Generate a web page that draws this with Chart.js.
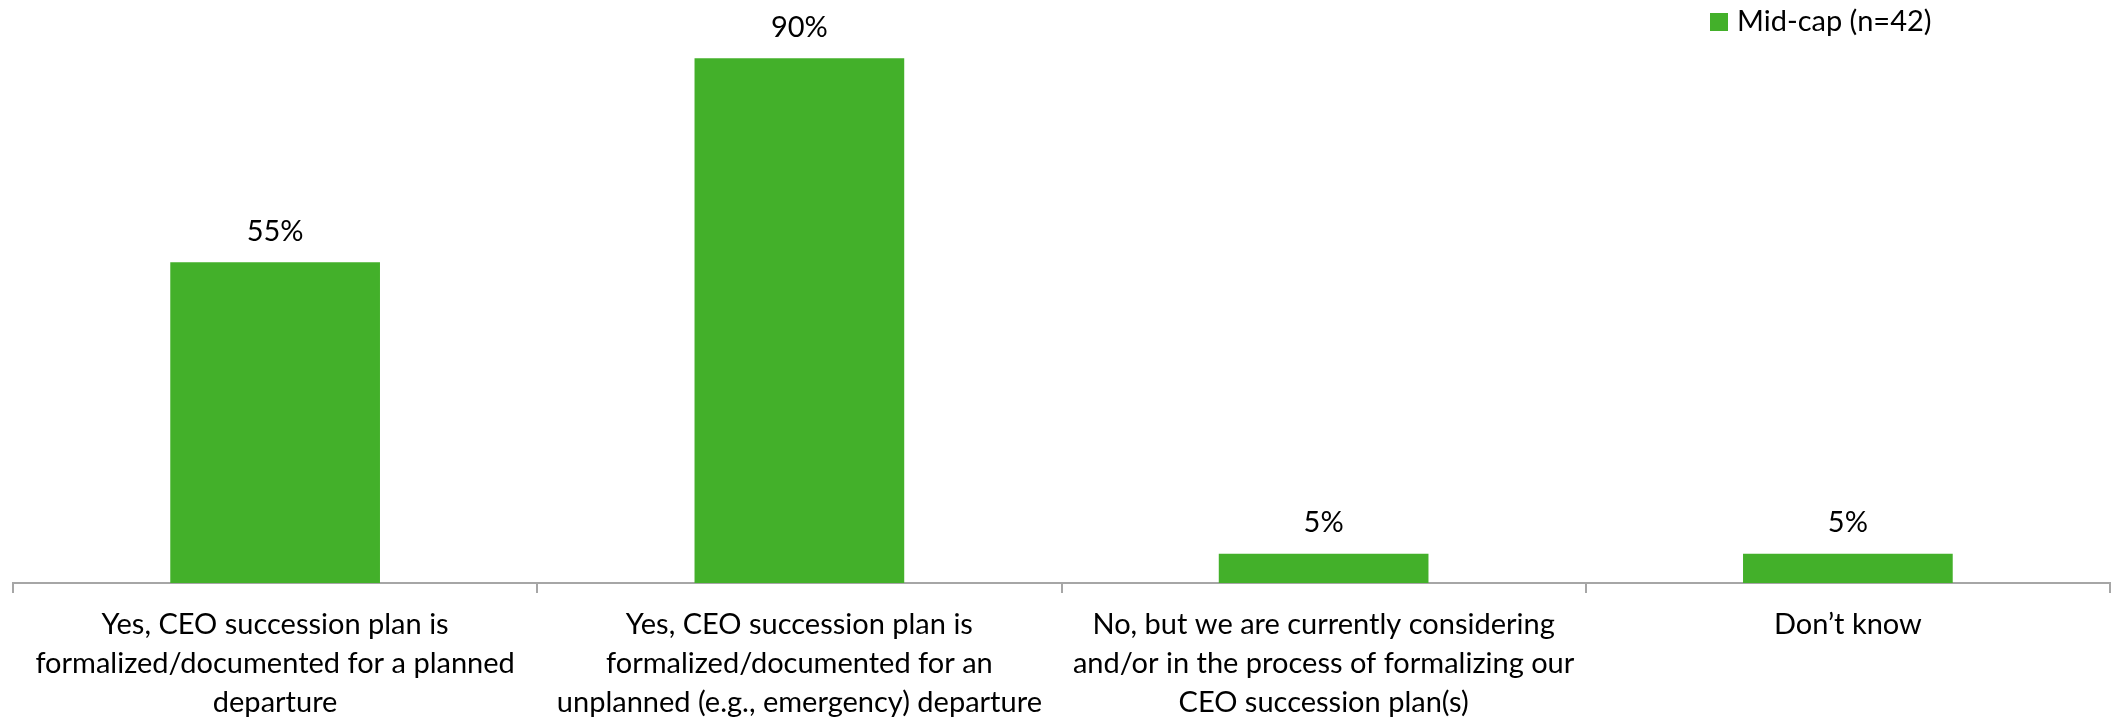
<!DOCTYPE html>
<html>
<head>
<meta charset="utf-8">
<script src="https://cdn.jsdelivr.net/npm/chart.js@4"></script>
<style>
  html, body { margin: 0; padding: 0; background: #fff; }
  #wrap { width: 2112px; height: 719px; }
</style>
</head>
<body>
<div id="wrap"><canvas id="successionChart" width="2112" height="719"></canvas></div>
<script>
// data
const categories = [
  ["Yes, CEO succession plan is", "formalized/documented for a planned", "departure"],
  ["Yes, CEO succession plan is", "formalized/documented for an", "unplanned (e.g., emergency) departure"],
  ["No, but we are currently considering", "and/or in the process of formalizing our", "CEO succession plan(s)"],
  ["Don\u2019t know"],
];
const midCapValues = [55, 90, 5, 5];
const seriesLabel = "Mid-cap (n=42)";

const FONT = "Lato, 'Open Sans', sans-serif";
const GREEN = "#43B02A";

// value labels above the bars
const valueLabels = {
  id: "valueLabels",
  afterDatasetsDraw(chart) {
    const ctx = chart.ctx;
    const meta = chart.getDatasetMeta(0);
    ctx.save();
    ctx.font = "29px " + FONT;
    ctx.fillStyle = "#000";
    ctx.textAlign = "center";
    ctx.textBaseline = "middle";
    meta.data.forEach(function (bar, i) {
      ctx.fillText(midCapValues[i] + "%", bar.x, bar.y - 31);
    });
    ctx.restore();
  },
};

// legend in the top right corner
const cornerLegend = {
  id: "cornerLegend",
  afterDraw(chart) {
    const ctx = chart.ctx;
    ctx.save();
    ctx.fillStyle = GREEN;
    ctx.fillRect(1710, 13, 18, 18);
    ctx.font = "29px " + FONT;
    ctx.fillStyle = "#000";
    ctx.textAlign = "left";
    ctx.textBaseline = "middle";
    ctx.fillText(chart.data.datasets[0].label, 1737, 22);
    ctx.restore();
  },
};

const ctx = document.getElementById("successionChart").getContext("2d");
new Chart(ctx, {
  type: "bar",
  data: {
    labels: categories,
    datasets: [
      {
        label: seriesLabel,
        data: midCapValues,
        backgroundColor: GREEN,
        borderWidth: 0,
        categoryPercentage: 1,
        barPercentage: 0.4,
      },
    ],
  },
  options: {
    responsive: false,
    animation: false,
    layout: {
      padding: { left: 13, right: 2, top: 0, bottom: 0 },
    },
    plugins: {
      legend: { display: false },
      tooltip: { enabled: false },
    },
    scales: {
      x: {
        offset: true,
        afterFit: function (scale) {
          scale.height = 136;
        },
        grid: {
          offset: true,
          drawOnChartArea: false,
          drawTicks: true,
          tickLength: 10,
          color: "#A6A6A6",
          lineWidth: 2,
        },
        border: { display: true, color: "#A6A6A6", width: 2 },
        ticks: {
          color: "#000",
          font: { family: FONT, size: 29, lineHeight: 1.34 },
          padding: 12,
          maxRotation: 0,
          autoSkip: false,
        },
      },
      y: {
        display: false,
        min: 0,
        max: 100,
      },
    },
  },
  plugins: [valueLabels, cornerLegend],
});
</script>
</body>
</html>
